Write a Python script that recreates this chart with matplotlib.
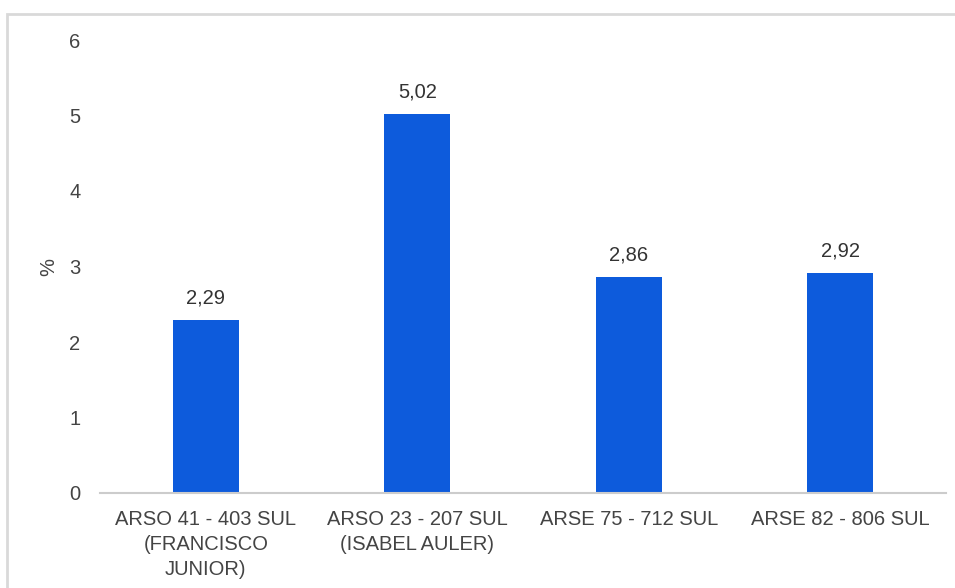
import matplotlib.pyplot as plt
from matplotlib.patches import Rectangle

plt.rcParams['font.family'] = ['Liberation Sans', 'DejaVu Sans']

categories = ['ARSO 41 - 403 SUL\n(FRANCISCO\nJUNIOR)',
              'ARSO 23 - 207 SUL\n(ISABEL AULER)',
              'ARSE 75 - 712 SUL',
              'ARSE 82 - 806 SUL']
values = [2.29, 5.02, 2.86, 2.92]
value_labels = ['2,29', '5,02', '2,86', '2,92']
y_ticks = [0, 1, 2, 3, 4, 5, 6]

FS = 14.5
W, H = 955, 588
fig = plt.figure(figsize=(W / 100, H / 100), dpi=100)
ax = fig.add_axes([100 / W, (H - 493) / H, 846 / W, 453 / H])

# light frame around the chart
fig.patches.append(Rectangle((6.5 / W, -0.1), 1.2, 1.1 - 14.5 / H, transform=fig.transFigure,
                             fill=False, edgecolor='#d9d9d9', linewidth=2))

x = range(len(categories))
bars = ax.bar(x, values, width=0.31, color='#0d5bdc')
for b, lab in zip(bars, value_labels):
    ax.annotate(lab, (b.get_x() + b.get_width() / 2, b.get_height()),
                xytext=(0, 9), textcoords='offset points', ha='center', va='bottom',
                fontsize=FS, color='#333333')

ax.set_xlim(-0.5, 3.5)
ax.set_ylim(0, 6)
ax.set_xticks(list(x))
ax.set_xticklabels(categories, fontsize=FS, color='#444444', linespacing=1.4)
ax.set_yticks(y_ticks)
ax.set_yticklabels([str(t) for t in y_ticks], fontsize=FS, color='#444444')
ax.tick_params(length=0)
ax.tick_params(axis='y', pad=14)
ax.tick_params(axis='x', pad=12)
ax.set_ylabel('%', fontsize=FS, color='#444444', labelpad=8)

for s in ['top', 'right', 'left']:
    ax.spines[s].set_visible(False)
ax.spines['bottom'].set_color('#cccccc')
ax.spines['bottom'].set_linewidth(1.5)

fig.savefig('out.png', dpi=100)
